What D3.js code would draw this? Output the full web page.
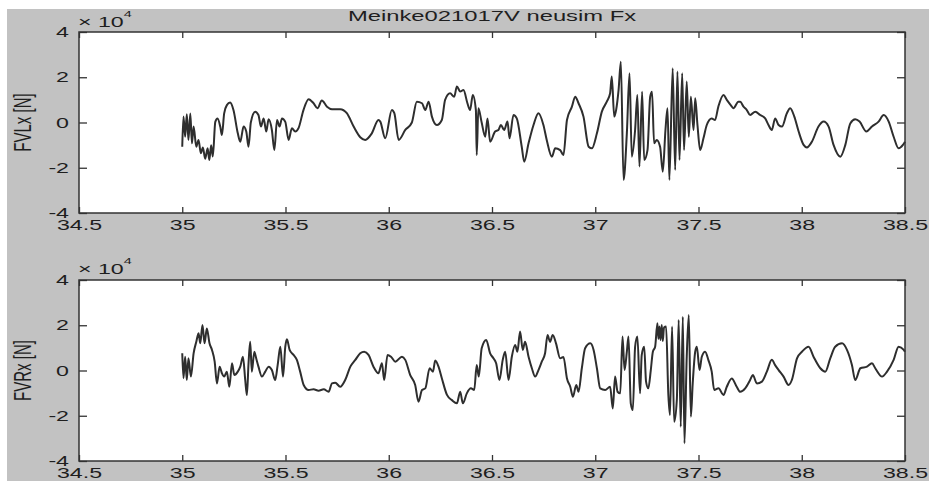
<!DOCTYPE html>
<html>
<head>
<meta charset="utf-8">
<script src="https://cdn.jsdelivr.net/npm/d3@7"></script>
<style>
  html, body { margin: 0; padding: 0; background: #fff; }
  svg { display: block; }
  text { font-family: "Liberation Sans", Arial, sans-serif; fill: #1e1e1e; }
</style>
</head>
<body>
<div id="chart"></div>
<script>
// values in units of 1e4 N, [time s, force]
const chartTitle = 'Meinke021017V neusim Fx';
const xTicks = [34.5, 35, 35.5, 36, 36.5, 37, 37.5, 38, 38.5];
const yTicks = [-4, -2, 0, 2, 4];
const panelLabels = ['FVLx [N]', 'FVRx [N]'];

const fvlx = [
  [35.000,-1.07],[35.006,0.26],[35.014,-0.63],[35.022,0.36],[35.030,-0.77],[35.039,0.40],[35.047,-0.92],[35.055,-0.18],
  [35.068,-1.07],[35.079,-0.77],[35.090,-1.36],[35.100,-1.10],[35.111,-1.60],[35.123,-1.14],[35.131,-1.66],[35.140,-1.00],
  [35.148,-1.50],[35.160,0.03],[35.171,0.18],[35.184,-0.18],[35.192,-0.55],[35.203,0.40],[35.216,0.77],[35.232,0.88],
  [35.248,0.55],[35.269,-0.48],[35.281,-0.85],[35.297,-0.18],[35.310,-0.40],[35.321,-1.07],[35.332,0.00],[35.353,0.48],
  [35.369,0.33],[35.381,-0.18],[35.394,0.18],[35.407,-0.40],[35.418,0.14],[35.434,-0.33],[35.446,-1.22],[35.459,0.11],
  [35.471,-0.18],[35.483,0.18],[35.499,0.03],[35.515,-0.77],[35.531,-0.25],[35.547,-0.40],[35.563,-0.25],[35.587,0.55],
  [35.612,1.03],[35.636,0.85],[35.655,0.63],[35.676,0.97],[35.701,0.70],[35.725,0.59],[35.765,0.59],[35.797,0.41],
  [35.830,-0.18],[35.862,-0.65],[35.886,-0.77],[35.918,-0.48],[35.950,0.11],[35.959,0.04],[35.983,-0.70],[36.015,0.55],
  [36.027,0.41],[36.048,-0.77],[36.080,-0.33],[36.112,0.00],[36.136,0.92],[36.161,0.85],[36.177,0.55],[36.193,0.92],
  [36.209,0.26],[36.233,-0.11],[36.257,0.11],[36.273,1.00],[36.297,1.29],[36.317,1.14],[36.330,1.59],[36.346,1.37],
  [36.362,1.44],[36.381,0.85],[36.394,0.55],[36.407,1.22],[36.422,0.55],[36.426,-1.44],[36.434,0.63],[36.450,0.00],
  [36.467,-0.63],[36.478,0.18],[36.491,-0.85],[36.515,-0.40],[36.531,-0.33],[36.543,-0.11],[36.559,-0.33],[36.575,0.04],
  [36.585,-0.70],[36.604,0.33],[36.620,0.18],[36.644,-1.07],[36.656,-1.73],[36.677,-0.92],[36.701,-0.11],[36.725,0.41],
  [36.749,-0.11],[36.765,-0.77],[36.790,-1.51],[36.806,-1.14],[36.830,-1.22],[36.846,-1.44],[36.863,0.11],[36.887,0.70],
  [36.903,1.14],[36.919,0.85],[36.943,0.26],[36.968,-1.07],[36.984,-1.14],[37.008,-0.48],[37.032,0.48],[37.056,0.92],
  [37.072,1.29],[37.080,2.03],[37.092,0.26],[37.101,0.55],[37.113,1.44],[37.124,2.69],[37.137,-2.54],[37.153,-0.48],
  [37.166,2.18],[37.177,-1.51],[37.193,-0.33],[37.204,1.22],[37.214,-1.95],[37.227,1.36],[37.237,-1.66],[37.253,-1.22],
  [37.266,1.14],[37.275,1.36],[37.285,-0.92],[37.298,-0.77],[37.314,-1.07],[37.327,-2.18],[37.340,-0.33],[37.350,0.63],
  [37.359,-2.54],[37.375,2.40],[37.387,-2.10],[37.398,2.25],[37.408,-1.66],[37.421,2.18],[37.430,-1.22],[37.443,1.81],
  [37.453,-0.63],[37.463,1.14],[37.476,-0.33],[37.484,1.07],[37.495,-0.11],[37.508,-1.22],[37.524,-0.70],[37.540,-0.11],
  [37.564,0.18],[37.580,0.11],[37.596,0.70],[37.621,1.22],[37.637,1.00],[37.656,0.77],[37.669,0.63],[37.693,0.92],
  [37.702,0.92],[37.718,0.70],[37.734,0.55],[37.750,0.33],[37.775,0.48],[37.799,0.33],[37.823,0.18],[37.839,-0.11],
  [37.855,-0.33],[37.871,0.18],[37.888,-0.11],[37.904,-0.18],[37.928,0.41],[37.944,0.63],[37.964,0.26],[37.985,-0.40],
  [38.009,-0.99],[38.025,-1.10],[38.049,-0.85],[38.081,-0.18],[38.106,0.04],[38.130,-0.18],[38.154,-0.99],[38.187,-1.51],
  [38.211,-0.99],[38.235,-0.04],[38.259,0.14],[38.280,0.04],[38.313,-0.40],[38.340,-0.18],[38.372,0.04],[38.397,0.33],
  [38.421,0.04],[38.445,-0.63],[38.469,-1.14],[38.490,-0.99],[38.500,-0.85]
];

const fvrx = [
  [35.000,0.76],[35.006,-0.34],[35.014,0.61],[35.022,-0.42],[35.030,0.54],[35.042,-0.27],[35.055,0.76],[35.068,1.27],
  [35.079,1.65],[35.087,1.20],[35.098,2.01],[35.108,1.20],[35.119,1.86],[35.132,1.20],[35.144,0.91],[35.157,0.39],
  [35.168,-0.57],[35.181,0.17],[35.192,-0.12],[35.203,-0.27],[35.216,-0.05],[35.228,-0.72],[35.241,0.32],[35.252,-0.20],
  [35.269,-0.05],[35.281,0.17],[35.294,0.61],[35.305,-0.42],[35.313,-1.08],[35.321,0.32],[35.329,1.27],[35.337,-0.05],
  [35.349,0.83],[35.358,0.54],[35.369,0.17],[35.386,-0.27],[35.402,-0.05],[35.418,0.17],[35.434,0.02],[35.450,-0.42],
  [35.462,0.24],[35.475,1.05],[35.488,-0.27],[35.499,1.05],[35.507,1.38],[35.520,0.91],[35.539,0.69],[35.555,0.47],
  [35.571,-0.05],[35.588,-0.64],[35.612,-0.86],[35.636,-0.83],[35.660,-0.89],[35.685,-0.83],[35.709,-0.94],[35.725,-0.57],
  [35.741,-0.54],[35.765,-0.72],[35.789,-0.42],[35.814,0.17],[35.838,0.47],[35.862,0.76],[35.881,0.83],[35.902,0.69],
  [35.926,0.17],[35.950,-0.12],[35.967,0.32],[35.978,-0.42],[35.994,0.69],[36.011,0.61],[36.032,0.39],[36.064,0.61],
  [36.080,0.47],[36.104,-0.20],[36.128,-0.64],[36.144,-1.38],[36.161,-0.86],[36.177,-0.79],[36.198,0.10],[36.214,-0.05],
  [36.225,0.44],[36.241,0.17],[36.257,-0.34],[36.282,-1.08],[36.306,-1.31],[36.330,-1.45],[36.346,-0.94],[36.359,-1.45],
  [36.378,-1.01],[36.398,-0.79],[36.414,-0.86],[36.426,0.24],[36.436,-0.27],[36.450,0.98],[36.472,1.35],[36.491,0.76],
  [36.507,0.54],[36.520,0.32],[36.536,-0.42],[36.552,0.47],[36.564,0.83],[36.580,-0.42],[36.596,0.61],[36.612,1.13],
  [36.623,0.83],[36.636,1.72],[36.649,0.91],[36.660,1.27],[36.677,0.61],[36.693,0.10],[36.709,-0.27],[36.725,0.02],
  [36.741,0.39],[36.757,0.76],[36.769,1.57],[36.781,1.27],[36.794,1.57],[36.810,1.20],[36.830,0.54],[36.846,0.60],
  [36.863,-0.35],[36.879,-0.72],[36.892,-1.16],[36.908,-0.64],[36.919,-0.94],[36.935,0.10],[36.951,0.98],[36.976,1.20],
  [36.992,0.91],[37.008,0.10],[37.024,-0.79],[37.048,-0.86],[37.072,-0.72],[37.085,-1.68],[37.096,-0.27],[37.108,-0.94],
  [37.121,-1.01],[37.132,1.50],[37.142,0.02],[37.153,0.83],[37.161,1.50],[37.172,-1.45],[37.182,-1.75],[37.193,1.05],
  [37.204,1.50],[37.217,-1.01],[37.225,0.68],[37.237,1.05],[37.246,-0.49],[37.257,-0.79],[37.269,0.02],[37.279,0.83],
  [37.290,1.05],[37.301,2.09],[37.306,1.40],[37.311,1.95],[37.316,1.35],[37.322,2.01],[37.327,1.30],[37.333,1.90],
  [37.343,1.94],[37.354,-1.08],[37.362,-1.97],[37.372,1.94],[37.382,-2.27],[37.395,-1.31],[37.404,2.23],[37.414,-2.49],
  [37.424,2.38],[37.432,-3.22],[37.443,0.61],[37.453,2.45],[37.463,-2.04],[37.472,-0.57],[37.484,0.83],[37.492,1.05],
  [37.505,0.02],[37.516,0.61],[37.532,0.83],[37.548,0.46],[37.564,-0.05],[37.576,-0.86],[37.597,-0.79],[37.621,-1.08],
  [37.637,-0.72],[37.661,-0.35],[37.685,-0.72],[37.702,-0.94],[37.726,-0.79],[37.750,-0.42],[37.763,-0.20],[37.783,-0.57],
  [37.807,-0.49],[37.831,-0.05],[37.855,0.47],[37.871,0.24],[37.888,0.02],[37.912,-0.27],[37.936,-0.64],[37.952,-0.42],
  [37.977,0.54],[38.001,0.83],[38.033,1.05],[38.057,0.61],[38.090,0.10],[38.114,-0.05],[38.138,0.54],[38.162,1.05],
  [38.195,1.20],[38.219,0.91],[38.243,0.24],[38.259,-0.42],[38.284,0.10],[38.316,0.17],[38.340,0.32],[38.356,0.10],
  [38.389,-0.27],[38.413,-0.05],[38.445,0.47],[38.469,1.05],[38.494,0.91],[38.500,0.83]
];

const W = 929, H = 481;
const left = 79, right = 905;
// the source figure was stretched sideways, so glyphs are wider than normal
const stretch = 1.6;
const fontSize = 14.5;
const panels = [
  {data: fvlx, label: panelLabels[0], top: 32, bottom: 213},
  {data: fvrx, label: panelLabels[1], top: 280, bottom: 461}
];

const svg = d3.select('#chart').append('svg')
  .attr('width', W)
  .attr('height', H);

// figure background
svg.append('rect')
  .attr('x', 7).attr('y', 9)
  .attr('width', W - 7).attr('height', H - 9)
  .attr('fill', '#c2c2c2');

const x = d3.scaleLinear().domain([34.5, 38.5]).range([left, right]);

panels.forEach((p, i) => {
  const y = d3.scaleLinear().domain([-4, 4]).range([p.bottom, p.top]);
  const g = svg.append('g');

  g.append('rect')
    .attr('x', left).attr('y', p.top)
    .attr('width', right - left).attr('height', p.bottom - p.top)
    .attr('fill', '#fff');

  // the trace
  const line = d3.line()
    .curve(d3.curveMonotoneX)
    .x(d => x(d[0]))
    .y(d => y(d[1]));
  g.append('path')
    .datum(p.data)
    .attr('d', line)
    .attr('fill', 'none')
    .attr('stroke', '#2e2e2e')
    .attr('stroke-width', 2)
    .attr('stroke-linejoin', 'round');

  // axes, ticks pointing inward
  const xb = g.append('g')
    .attr('transform', 'translate(0,' + p.bottom + ')')
    .call(d3.axisBottom(x).tickValues(xTicks).tickSize(-6).tickPadding(7).tickFormat(d => String(d)));
  const xt = g.append('g')
    .attr('transform', 'translate(0,' + p.top + ')')
    .call(d3.axisTop(x).tickValues(xTicks).tickSize(-6).tickFormat(''));
  const yl = g.append('g')
    .attr('transform', 'translate(' + left + ',0)')
    .call(d3.axisLeft(y).tickValues(yTicks).tickSize(-8).tickFormat(d => String(d)));
  const yr = g.append('g')
    .attr('transform', 'translate(' + right + ',0)')
    .call(d3.axisRight(y).tickValues(yTicks).tickSize(-8).tickFormat(''));

  [xb, xt, yl, yr].forEach(a => {
    a.select('.domain').remove();
    a.selectAll('line').attr('stroke', '#333').attr('stroke-width', 1.3);
    a.selectAll('text')
      .style('font-family', '"Liberation Sans", Arial, sans-serif')
      .style('font-size', fontSize + 'px')
      .attr('fill', '#1e1e1e')
      .attr('transform', 'scale(' + stretch + ',1)');
  });
  xb.selectAll('text').attr('dy', '0.72em');
  yl.selectAll('text').attr('x', -10 / stretch);

  // box
  g.append('rect')
    .attr('x', left).attr('y', p.top)
    .attr('width', right - left).attr('height', p.bottom - p.top)
    .attr('fill', 'none')
    .attr('stroke', '#333')
    .attr('stroke-width', 1.5);

  // exponent marker
  const ex = g.append('text')
    .attr('transform', 'translate(' + (left - 1) + ',' + (p.top - 5 - i) + ') scale(' + stretch + ',1)')
    .style('font-size', fontSize + 'px');
  ex.append('tspan').text('\u00d7 10');
  ex.append('tspan')
    .attr('dy', -10)
    .style('font-size', '9px')
    .text('4');

  // y label
  g.append('text')
    .attr('transform', 'translate(31,' + ((p.top + p.bottom) / 2) + ') scale(' + stretch + ',1) rotate(-90)')
    .attr('text-anchor', 'middle')
    .style('font-size', '15px')
    .text(p.label);
});

svg.append('text')
  .attr('transform', 'translate(' + ((left + right) / 2) + ',21) scale(1.7,1)')
  .attr('text-anchor', 'middle')
  .style('font-size', '14px')
  .text(chartTitle);
</script>
</body>
</html>
